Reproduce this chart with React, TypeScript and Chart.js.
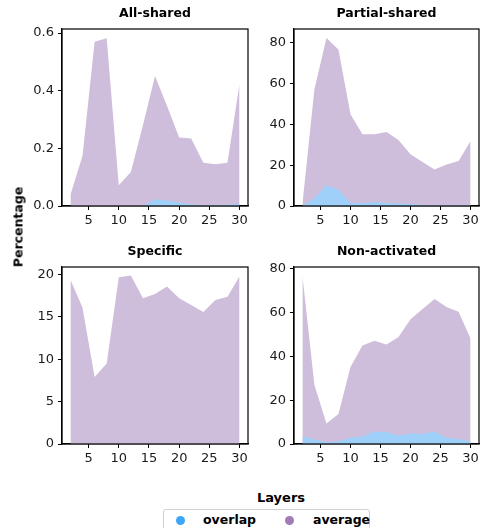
import React, { useEffect, useRef } from 'react';
import { Chart, registerables } from 'chart.js';

Chart.register(...registerables);

const layers = [2, 4, 6, 8, 10, 12, 14, 16, 18, 20, 22, 24, 26, 28, 30];
const xTicks = [5, 10, 15, 20, 25, 30];

const allSharedAverage = [0.039, 0.174, 0.57, 0.582, 0.072, 0.118, 0.28, 0.451, 0.347, 0.238, 0.234, 0.15, 0.145, 0.15, 0.425];
const allSharedOverlap = [0, 0, 0, 0, 0, 0, 0, 0.023, 0.019, 0.012, 0.005, 0.003, 0.003, 0.004, 0.008];

const partialSharedAverage = [1, 57.2, 82.3, 76.6, 44.9, 35.1, 35.2, 36.2, 32.3, 25.4, 21.6, 17.9, 20.3, 22, 31.8];
const partialSharedOverlap = [0, 3.9, 10.2, 8, 1.5, 1.5, 2, 1.5, 1.2, 1, 0.5, 0.2, 0.2, 0.2, 0.2];

const specificAverage = [19.4, 16.1, 7.9, 9.5, 19.7, 19.9, 17.2, 17.7, 18.6, 17.2, 16.4, 15.6, 17.0, 17.4, 19.8];
const specificOverlap = [0, 0, 0, 0, 0, 0, 0, 0, 0, 0, 0, 0, 0, 0, 0];

const nonActivatedAverage = [77, 27, 9.4, 13.7, 35.2, 45, 47.2, 45.5, 48.9, 57, 61.7, 66.3, 62.6, 60.5, 48.2];
const nonActivatedOverlap = [3.7, 2.1, 0.8, 1.2, 2.9, 3.4, 5.7, 5.5, 3.8, 4.8, 4.7, 5.6, 2.8, 2.3, 1.1];

const allSharedYTicks = [0, 0.2, 0.4, 0.6];
const partialSharedYTicks = [0, 20, 40, 60, 80];
const specificYTicks = [0, 5, 10, 15, 20];
const nonActivatedYTicks = [0, 20, 40, 60, 80];

const seriesNames = ['overlap', 'average'];
const overlapFill = '#9fd0fa';
const averageFill = '#cfbedb';
const overlapDot = '#3ea6f7';
const averageDot = '#a07db8';

const FONT = "'DejaVu Sans', sans-serif";

const boxPlugin = {
  id: 'boxFrame',
  afterDatasetsDraw(chart: any) {
    const { ctx, chartArea: a } = chart;
    ctx.save();
    ctx.strokeStyle = '#000';
    ctx.lineWidth = 1.2;
    ctx.strokeRect(a.left, a.top, a.right - a.left, a.bottom - a.top);
    ctx.restore();
  },
};

type PanelProps = {
  title: string;
  overlap: number[];
  average: number[];
  yTicks: number[];
  yMax: number;
  decimals: number;
  cx: number;
  cy: number;
  cw: number;
  ch: number;
  pl: number;
  pt: number;
  pr: number;
  pb: number;
  titleCenter: number;
};

function Panel(p: PanelProps) {
  const ref = useRef<HTMLCanvasElement | null>(null);
  useEffect(() => {
    if (!ref.current) return;
    const titleFont = 12.5;
    const lh = titleFont * 1.2;
    const padTop = p.titleCenter - p.cy - lh / 2;
    const padBottom = p.pt - p.cy - padTop - lh;
    const chart = new Chart(ref.current, {
      type: 'line',
      data: {
        datasets: [
          {
            label: seriesNames[0],
            data: layers.map((x, i) => ({ x, y: p.overlap[i] })),
            backgroundColor: overlapFill,
            borderWidth: 0,
            pointRadius: 0,
            fill: 'origin',
            tension: 0,
          },
          {
            label: seriesNames[1],
            data: layers.map((x, i) => ({ x, y: p.average[i] })),
            backgroundColor: averageFill,
            borderWidth: 0,
            pointRadius: 0,
            fill: 'origin',
            tension: 0,
          },
        ],
      },
      options: {
        animation: false,
        responsive: false,
        maintainAspectRatio: false,
        layout: { padding: { top: 0, right: p.cx + p.cw - p.pr, bottom: 0, left: 0 } },
        plugins: {
          legend: { display: false },
          tooltip: { enabled: false },
          title: {
            display: true,
            text: p.title,
            fullSize: false,
            color: '#000',
            font: { family: FONT, size: titleFont, weight: 'bold', lineHeight: 1.2 },
            padding: { top: padTop, bottom: padBottom },
          },
        },
        scales: {
          x: {
            type: 'linear',
            min: 0.6,
            max: 31.4,
            afterBuildTicks: (s: any) => {
              s.ticks = xTicks.map((v) => ({ value: v }));
            },
            afterFit: (s: any) => {
              s.height = p.cy + p.ch - p.pb;
            },
            grid: { display: true, drawOnChartArea: false, drawTicks: true, tickLength: 4, color: '#000', lineWidth: 1 },
            border: { display: true, color: '#000', width: 1.2 },
            ticks: { color: '#1a1a1a', font: { family: FONT, size: 13 }, padding: 3, maxRotation: 0, autoSkip: false },
          },
          y: {
            type: 'linear',
            min: 0,
            max: p.yMax,
            afterBuildTicks: (s: any) => {
              s.ticks = p.yTicks.map((v) => ({ value: v }));
            },
            afterFit: (s: any) => {
              s.width = p.pl - p.cx;
            },
            grid: { display: true, drawOnChartArea: false, drawTicks: true, tickLength: 4, color: '#000', lineWidth: 1 },
            border: { display: true, color: '#000', width: 1.2 },
            ticks: {
              color: '#1a1a1a',
              font: { family: FONT, size: 13 },
              padding: 4,
              autoSkip: false,
              callback: (v: any) => Number(v).toFixed(p.decimals),
            },
          },
        },
      },
      plugins: [boxPlugin],
    });
    return () => chart.destroy();
  }, []);
  return (
    <canvas
      ref={ref}
      width={p.cw}
      height={p.ch}
      style={{ position: 'absolute', left: p.cx, top: p.cy, width: p.cw, height: p.ch }}
    />
  );
}

export default function App() {
  const top = { cy: 0, ch: 232, pt: 29, pb: 206, titleCenter: 14 };
  const bot = { cy: 232, ch: 232, pt: 267, pb: 444, titleCenter: 252 };
  const left = { cx: 0, cw: 252, pl: 62, pr: 248 };
  const right = { cx: 252, cw: 231, pl: 294, pr: 479 };
  return (
    <div style={{ position: 'absolute', left: 0, top: 0, width: 483, height: 528, background: '#fff', overflow: 'hidden', fontFamily: FONT }}>
      <Panel title="All-shared" overlap={allSharedOverlap} average={allSharedAverage} yTicks={allSharedYTicks} yMax={0.614} decimals={1} {...top} {...left} />
      <Panel title="Partial-shared" overlap={partialSharedOverlap} average={partialSharedAverage} yTicks={partialSharedYTicks} yMax={86.7} decimals={0} {...top} {...right} />
      <Panel title="Specific" overlap={specificOverlap} average={specificAverage} yTicks={specificYTicks} yMax={20.9} decimals={0} {...bot} {...left} />
      <Panel title="Non-activated" overlap={nonActivatedOverlap} average={nonActivatedAverage} yTicks={nonActivatedYTicks} yMax={80.9} decimals={0} {...bot} {...right} />
      <div style={{ position: 'absolute', left: 18, top: 227, transform: 'translate(-50%, -50%) rotate(-90deg)', fontWeight: 'bold', fontSize: 12.5, whiteSpace: 'nowrap', color: '#000' }}>Percentage</div>
      <div style={{ position: 'absolute', left: 281, top: 497, transform: 'translate(-50%, -50%)', fontWeight: 'bold', fontSize: 13, whiteSpace: 'nowrap', color: '#000' }}>Layers</div>
      <div style={{ position: 'absolute', left: 163, top: 509, width: 207, height: 30, border: '1px solid #d0d0d0', borderRadius: 3, boxSizing: 'border-box', background: '#fff' }}>
        <div style={{ position: 'absolute', left: 12, top: 6, width: 9, height: 9, borderRadius: '50%', background: overlapDot }} />
        <div style={{ position: 'absolute', left: 39, top: 2, fontWeight: 'bold', fontSize: 12.5, lineHeight: '16px', color: '#000' }}>{seriesNames[0]}</div>
        <div style={{ position: 'absolute', left: 121, top: 6, width: 9, height: 9, borderRadius: '50%', background: averageDot }} />
        <div style={{ position: 'absolute', left: 149, top: 2, fontWeight: 'bold', fontSize: 12.5, lineHeight: '16px', color: '#000' }}>{seriesNames[1]}</div>
      </div>
    </div>
  );
}
